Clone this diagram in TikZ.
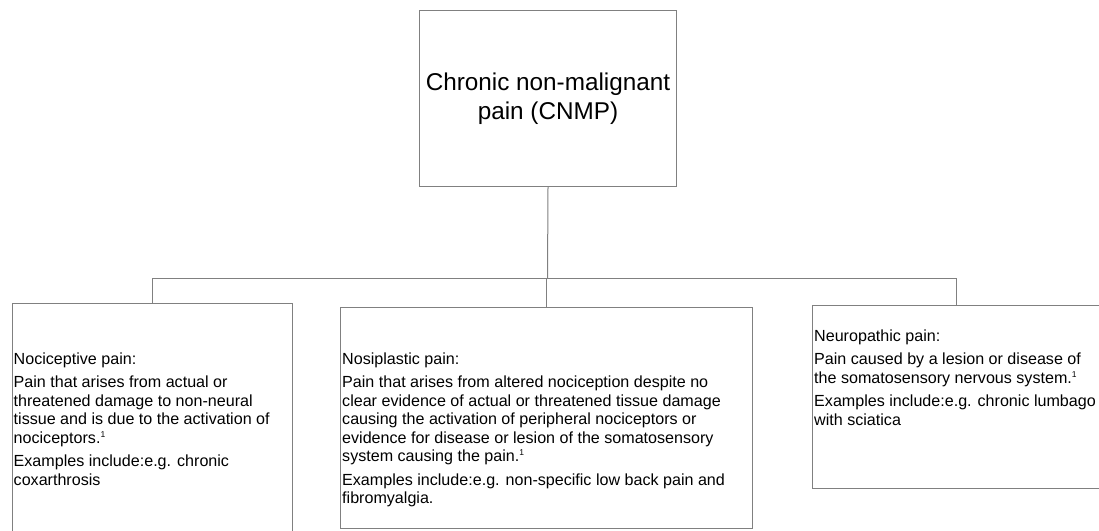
\documentclass[tikz,border=0pt]{standalone}
\usepackage{fontspec}
\setmainfont{Liberation Sans}
\definecolor{linegray}{RGB}{128,128,128}
\newcommand{\refmark}{\raisebox{6pt}{\fontsize{8.5}{8.5}\selectfont 1}}
\begin{document}
\begin{tikzpicture}[x=1pt,y=-1pt,
  box/.style={draw=linegray, line width=1pt, rectangle, inner sep=0pt, anchor=north west},
  wire/.style={draw=linegray, line width=1pt},
  body/.style={anchor=north west, inner sep=0pt, align=left, font=\fontsize{16.1}{18.5}\selectfont},
  titletext/.style={inner sep=0pt, align=center, font=\fontsize{24.3}{29}\selectfont}]
\useasboundingbox (0,0) rectangle (1099,530);
\clip (0,0) rectangle (1099,530);
\fill[white] (0,0) rectangle (1099,530);
% boxes
\node[box, minimum width=257pt, minimum height=176pt] (root) at (419,10) {};
\node[box, minimum width=280pt, minimum height=240pt] (noci) at (12,303) {};
\node[box, minimum width=412pt, minimum height=221pt] (nosi) at (340,307) {};
\node[box, minimum width=288pt, minimum height=183pt] (neuro) at (812,305) {};
% connectors
\coordinate (bus) at (547.5,278);
\draw[wire] (root.south) -- (bus);
\draw[wire] (bus) -| (noci.north);
\draw[wire] (bus) -| (neuro.north);
\draw[wire] (bus) -| (nosi.north);
% texts
\node[titletext] (title) at (root.center) {Chronic non-malignant\\pain (CNMP)};
\node[body] (nocitext) at (13.5,352.4) {Nociceptive pain:\\[5pt]
Pain that arises from actual or\\
threatened damage to non-neural\\
tissue and is due to the activation of\\
nociceptors.\refmark\\[5pt]
Examples include:e.g. chronic\\
coxarthrosis};
\node[body] (nositext) at (342,352.4) {Nosiplastic pain:\\[5pt]
Pain that arises from altered nociception despite no\\
clear evidence of actual or threatened tissue damage\\
causing the activation of peripheral nociceptors or\\
evidence for disease or lesion of the somatosensory\\
system causing the pain.\refmark\\[5pt]
Examples include:e.g. non-specific low back pain and\\
fibromyalgia.};
\node[body] (neurotext) at (814,329.4) {Neuropathic pain:\\[5pt]
Pain caused by a lesion or disease of\\
the somatosensory nervous system.\refmark\\[5pt]
Examples include:e.g. chronic lumbago\\
with sciatica};
\end{tikzpicture}
\end{document}
